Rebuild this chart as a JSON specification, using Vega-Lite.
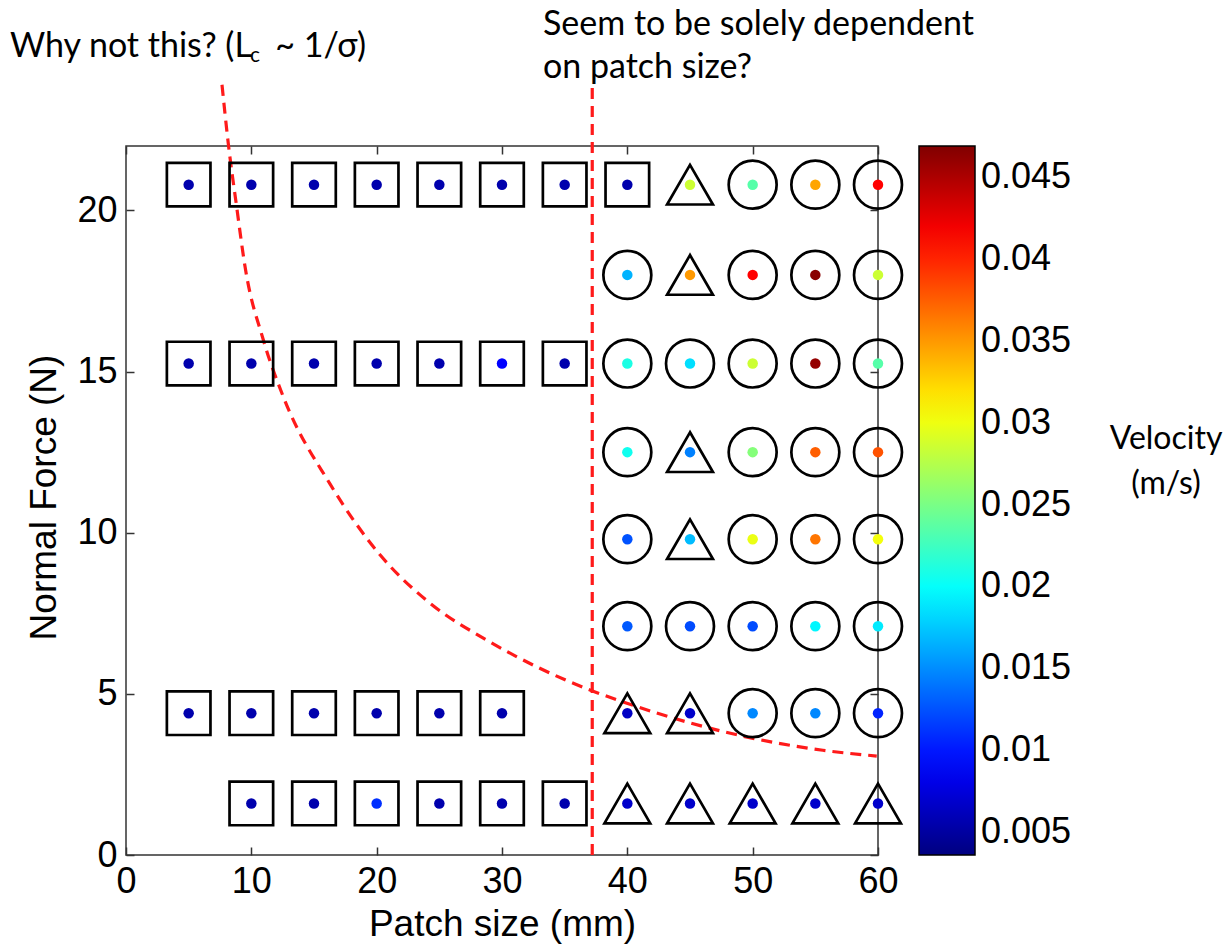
{
  "$schema": "https://vega.github.io/schema/vega-lite/v6.json",
  "width": 752,
  "height": 709,
  "autosize": {"type": "none"},
  "padding": {"left": 126, "top": 146, "right": 351, "bottom": 90},
  "background": "white",
  "config": {
    "view": {"stroke": "#333333", "strokeWidth": 1.5},
    "axis": {
      "grid": false,
      "domain": false,
      "tickColor": "#333333",
      "tickWidth": 1.5,
      "tickSize": -8,
      "labelFont": "Liberation Sans",
      "labelFontSize": 36,
      "labelColor": "black",
      "titleFont": "Liberation Sans",
      "titleFontSize": 37,
      "titleFontWeight": "normal",
      "titleColor": "black",
      "labelFlush": false,
      "labelOverlap": false
    },
    "text": {"font": "Lato", "fontSize": 34, "color": "black"}
  },
  "datasets": {
    "pts": [
      {"patch": 5, "force": 20.8, "v": 0.0055, "regime": "square"},
      {"patch": 10, "force": 20.8, "v": 0.0055, "regime": "square"},
      {"patch": 15, "force": 20.8, "v": 0.0055, "regime": "square"},
      {"patch": 20, "force": 20.8, "v": 0.0055, "regime": "square"},
      {"patch": 25, "force": 20.8, "v": 0.0055, "regime": "square"},
      {"patch": 30, "force": 20.8, "v": 0.0055, "regime": "square"},
      {"patch": 35, "force": 20.8, "v": 0.0055, "regime": "square"},
      {"patch": 40, "force": 20.8, "v": 0.0055, "regime": "square"},
      {"patch": 45, "force": 20.8, "v": 0.0285, "regime": "triangle"},
      {"patch": 50, "force": 20.8, "v": 0.0235, "regime": "circle"},
      {"patch": 55, "force": 20.8, "v": 0.0345, "regime": "circle"},
      {"patch": 60, "force": 20.8, "v": 0.0415, "regime": "circle"},
      {"patch": 40, "force": 18.0, "v": 0.0166, "regime": "circle"},
      {"patch": 45, "force": 18.0, "v": 0.035, "regime": "triangle"},
      {"patch": 50, "force": 18.0, "v": 0.0415, "regime": "circle"},
      {"patch": 55, "force": 18.0, "v": 0.0465, "regime": "circle"},
      {"patch": 60, "force": 18.0, "v": 0.0285, "regime": "circle"},
      {"patch": 5, "force": 15.25, "v": 0.0055, "regime": "square"},
      {"patch": 10, "force": 15.25, "v": 0.0055, "regime": "square"},
      {"patch": 15, "force": 15.25, "v": 0.0055, "regime": "square"},
      {"patch": 20, "force": 15.25, "v": 0.0055, "regime": "square"},
      {"patch": 25, "force": 15.25, "v": 0.0055, "regime": "square"},
      {"patch": 30, "force": 15.25, "v": 0.009, "regime": "square"},
      {"patch": 35, "force": 15.25, "v": 0.0055, "regime": "square"},
      {"patch": 40, "force": 15.25, "v": 0.021, "regime": "circle"},
      {"patch": 45, "force": 15.25, "v": 0.0185, "regime": "circle"},
      {"patch": 50, "force": 15.25, "v": 0.0285, "regime": "circle"},
      {"patch": 55, "force": 15.25, "v": 0.046, "regime": "circle"},
      {"patch": 60, "force": 15.25, "v": 0.0235, "regime": "circle"},
      {"patch": 40, "force": 12.5, "v": 0.0205, "regime": "circle"},
      {"patch": 45, "force": 12.5, "v": 0.0145, "regime": "triangle"},
      {"patch": 50, "force": 12.5, "v": 0.0255, "regime": "circle"},
      {"patch": 55, "force": 12.5, "v": 0.0375, "regime": "circle"},
      {"patch": 60, "force": 12.5, "v": 0.038, "regime": "circle"},
      {"patch": 40, "force": 9.8, "v": 0.0125, "regime": "circle"},
      {"patch": 45, "force": 9.8, "v": 0.017, "regime": "triangle"},
      {"patch": 50, "force": 9.8, "v": 0.0298, "regime": "circle"},
      {"patch": 55, "force": 9.8, "v": 0.0365, "regime": "circle"},
      {"patch": 60, "force": 9.8, "v": 0.0302, "regime": "circle"},
      {"patch": 40, "force": 7.1, "v": 0.0128, "regime": "circle"},
      {"patch": 45, "force": 7.1, "v": 0.0122, "regime": "circle"},
      {"patch": 50, "force": 7.1, "v": 0.0122, "regime": "circle"},
      {"patch": 55, "force": 7.1, "v": 0.0195, "regime": "circle"},
      {"patch": 60, "force": 7.1, "v": 0.019, "regime": "circle"},
      {"patch": 5, "force": 4.4, "v": 0.0055, "regime": "square"},
      {"patch": 10, "force": 4.4, "v": 0.0055, "regime": "square"},
      {"patch": 15, "force": 4.4, "v": 0.0055, "regime": "square"},
      {"patch": 20, "force": 4.4, "v": 0.0055, "regime": "square"},
      {"patch": 25, "force": 4.4, "v": 0.0055, "regime": "square"},
      {"patch": 30, "force": 4.4, "v": 0.0055, "regime": "square"},
      {"patch": 40, "force": 4.4, "v": 0.0065, "regime": "triangle"},
      {"patch": 45, "force": 4.4, "v": 0.0068, "regime": "triangle"},
      {"patch": 50, "force": 4.4, "v": 0.0148, "regime": "circle"},
      {"patch": 55, "force": 4.4, "v": 0.0148, "regime": "circle"},
      {"patch": 60, "force": 4.4, "v": 0.0105, "regime": "circle"},
      {"patch": 10, "force": 1.6, "v": 0.0055, "regime": "square"},
      {"patch": 15, "force": 1.6, "v": 0.0055, "regime": "square"},
      {"patch": 20, "force": 1.6, "v": 0.011, "regime": "square"},
      {"patch": 25, "force": 1.6, "v": 0.0055, "regime": "square"},
      {"patch": 30, "force": 1.6, "v": 0.0055, "regime": "square"},
      {"patch": 35, "force": 1.6, "v": 0.0055, "regime": "square"},
      {"patch": 40, "force": 1.6, "v": 0.0068, "regime": "triangle"},
      {"patch": 45, "force": 1.6, "v": 0.0068, "regime": "triangle"},
      {"patch": 50, "force": 1.6, "v": 0.0068, "regime": "triangle"},
      {"patch": 55, "force": 1.6, "v": 0.0068, "regime": "triangle"},
      {"patch": 60, "force": 1.6, "v": 0.0068, "regime": "triangle"}
    ],
    "curve": [
      {"patch": 7.66, "force": 23.9},
      {"patch": 8.16, "force": 22.08},
      {"patch": 8.83, "force": 20.11},
      {"patch": 9.5, "force": 18.25},
      {"patch": 10.96, "force": 15.98},
      {"patch": 12.55, "force": 14.22},
      {"patch": 16.3, "force": 11.5},
      {"patch": 20.3, "force": 9.3},
      {"patch": 24.3, "force": 7.8},
      {"patch": 28.78, "force": 6.67},
      {"patch": 32.77, "force": 5.84},
      {"patch": 37.02, "force": 5.12},
      {"patch": 39.66, "force": 4.75},
      {"patch": 45.0, "force": 4.1},
      {"patch": 50.03, "force": 3.62},
      {"patch": 55.6, "force": 3.25},
      {"patch": 59.9, "force": 3.07}
    ],
    "vline": [
      {"patch": 37.2, "force": 0, "force2": 23.9}
    ],
    "notes": [
      {"patch": -9.26, "force": 24.76, "note": "Why not this? (L"},
      {"patch": 33.27, "force": 25.44, "note": "Seem to be solely dependent"},
      {"patch": 33.27, "force": 24.11, "note": "on patch size?"}
    ],
    "subnote": [
      {"patch": 9.9, "force": 24.6, "note": "c"}
    ],
    "tailnote": [
      {"patch": 19.15, "force": 24.76, "note": "~ 1/σ)"}
    ],
    "cbtitle": [
      {"patch": 82.98, "force": 12.6, "note": "Velocity"},
      {"patch": 82.98, "force": 11.2, "note": "(m/s)"}
    ]
  },
  "layer": [
    {
      "data": {"name": "curve"},
      "mark": {"type": "line", "color": "#ff1a1a", "strokeWidth": 3.2, "strokeDash": [11, 7], "interpolate": "monotone"},
      "encoding": {
        "x": {"field": "patch", "type": "quantitative", "scale": {"domain": [0, 60], "nice": false, "zero": false}, "axis": null},
        "y": {"field": "force", "type": "quantitative", "scale": {"domain": [0, 22], "nice": false}, "axis": null}
      }
    },
    {
      "data": {"name": "vline"},
      "mark": {"type": "rule", "color": "#ff1a1a", "strokeWidth": 3.2, "strokeDash": [11, 7]},
      "encoding": {
        "x": {"field": "patch", "type": "quantitative", "scale": {"domain": [0, 60], "nice": false, "zero": false}, "axis": null},
        "y": {"field": "force", "type": "quantitative", "scale": {"domain": [0, 22], "nice": false}, "axis": null},
        "y2": {"field": "force2"}
      }
    },
    {
      "data": {"name": "pts"},
      "mark": {"type": "point", "filled": false, "strokeWidth": 2.7, "color": "black", "opacity": 1},
      "encoding": {
        "x": {"field": "patch", "type": "quantitative", "scale": {"domain": [0, 60], "nice": false, "zero": false},
              "axis": {"orient": "bottom", "values": [0, 10, 20, 30, 40, 50, 60], "title": "Patch size (mm)", "titleY": 80, "titleBaseline": "alphabetic", "labelPadding": 17}},
        "y": {"field": "force", "type": "quantitative", "scale": {"domain": [0, 22], "nice": false},
              "axis": {"orient": "left", "values": [0, 5, 10, 15, 20], "title": "Normal Force (N)", "titleX": -71, "titleY": 351, "titleBaseline": "alphabetic", "labelPadding": 17}},
        "shape": {"field": "regime", "type": "nominal", "scale": {"domain": ["square", "triangle", "circle"], "range": ["square", "triangle-up", "circle"]}, "legend": null},
        "size": {"field": "regime", "type": "nominal", "scale": {"domain": ["square", "triangle", "circle"], "range": [1900, 2300, 1800]}, "legend": null}
      }
    },
    {
      "data": {"name": "pts"},
      "mark": {"type": "point", "shape": "circle", "filled": true, "size": 110, "opacity": 1},
      "encoding": {
        "x": {"field": "patch", "type": "quantitative", "scale": {"domain": [0, 60], "nice": false, "zero": false},
              "axis": {"orient": "top", "values": [0, 10, 20, 30, 40, 50, 60], "labels": false, "title": null}},
        "y": {"field": "force", "type": "quantitative", "scale": {"domain": [0, 22], "nice": false},
              "axis": {"orient": "right", "values": [0, 5, 10, 15, 20], "labels": false, "title": null}},
        "color": {
          "field": "v", "type": "quantitative",
          "scale": {"domain": [0.0036, 0.00901, 0.01984, 0.03066, 0.04149, 0.0469], "range": ["#000080", "#0000ff", "#00ffff", "#ffff00", "#ff0000", "#800000"], "interpolate": "rgb"},
          "legend": {
            "orient": "none", "legendX": 793, "legendY": 0, "direction": "vertical",
            "title": null, "padding": 0,
            "gradientLength": 709, "gradientThickness": 56,
            "gradientStrokeColor": "black", "gradientStrokeWidth": 1.5,
            "values": [0.005, 0.01, 0.015, 0.02, 0.025, 0.03, 0.035, 0.04, 0.045],
            "format": ".3~f",
            "labelFont": "Liberation Sans", "labelFontSize": 36, "labelColor": "black",
            "labelOffset": 6, "labelBaseline": "middle", "labelOverlap": false
          }
        }
      }
    },
    {
      "data": {"name": "notes"},
      "mark": {"type": "text", "align": "left", "baseline": "alphabetic"},
      "encoding": {
        "x": {"field": "patch", "type": "quantitative", "scale": {"domain": [0, 60], "nice": false, "zero": false}, "axis": null},
        "y": {"field": "force", "type": "quantitative", "scale": {"domain": [0, 22], "nice": false}, "axis": null},
        "text": {"field": "note"}
      }
    },
    {
      "data": {"name": "subnote"},
      "mark": {"type": "text", "align": "left", "baseline": "alphabetic", "fontSize": 21},
      "encoding": {
        "x": {"field": "patch", "type": "quantitative", "scale": {"domain": [0, 60], "nice": false, "zero": false}, "axis": null},
        "y": {"field": "force", "type": "quantitative", "scale": {"domain": [0, 22], "nice": false}, "axis": null},
        "text": {"field": "note"}
      }
    },
    {
      "data": {"name": "tailnote"},
      "mark": {"type": "text", "align": "right", "baseline": "alphabetic"},
      "encoding": {
        "x": {"field": "patch", "type": "quantitative", "scale": {"domain": [0, 60], "nice": false, "zero": false}, "axis": null},
        "y": {"field": "force", "type": "quantitative", "scale": {"domain": [0, 22], "nice": false}, "axis": null},
        "text": {"field": "note"}
      }
    },
    {
      "data": {"name": "cbtitle"},
      "mark": {"type": "text", "align": "center", "baseline": "alphabetic", "fontSize": 32},
      "encoding": {
        "x": {"field": "patch", "type": "quantitative", "scale": {"domain": [0, 60], "nice": false, "zero": false}, "axis": null},
        "y": {"field": "force", "type": "quantitative", "scale": {"domain": [0, 22], "nice": false}, "axis": null},
        "text": {"field": "note"}
      }
    }
  ]
}
